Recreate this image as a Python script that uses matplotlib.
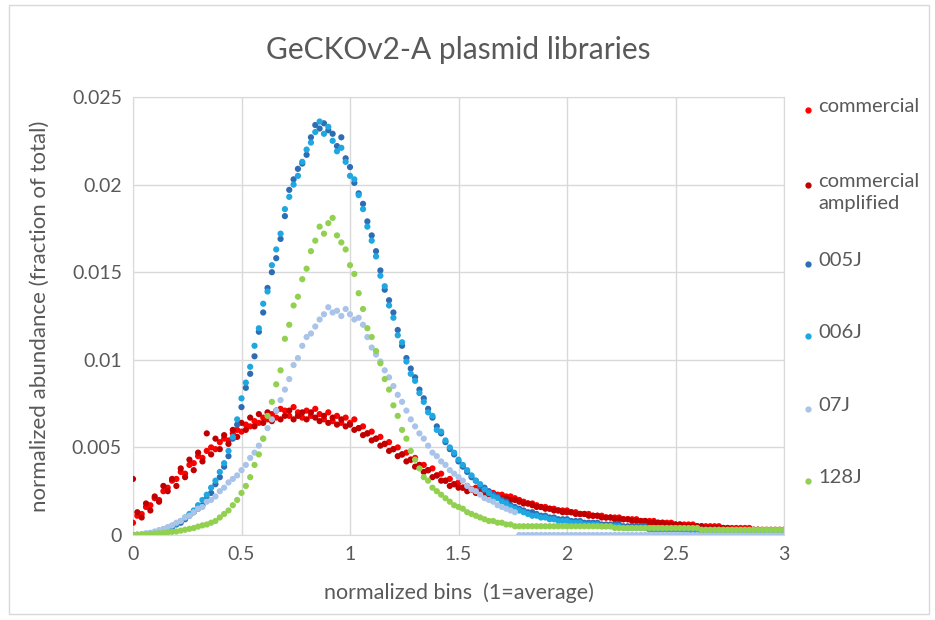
import numpy as np
import matplotlib
matplotlib.use('Agg')
import matplotlib.pyplot as plt
from matplotlib.patches import Rectangle
from matplotlib.lines import Line2D

plt.rcParams['font.family'] = ['Lato', 'DejaVu Sans']

# Normalized bins (1 = average), one bin every 0.02
bins = np.round(np.arange(0, 3.0001, 0.02), 2)

commercial = [
    0.0007, 0.0011, 0.0012, 0.0016, 0.0017, 0.0021, 0.0020, 0.0025, 0.0027, 0.0031,
    0.0032, 0.0036, 0.0035, 0.0040, 0.0041, 0.0045, 0.0044, 0.0048, 0.0050, 0.0049,
    0.0053, 0.0055, 0.0054, 0.0058, 0.0060, 0.0059, 0.0063, 0.0062, 0.0065, 0.0064,
    0.0067, 0.0066, 0.0069, 0.0067, 0.0072, 0.0071, 0.0068, 0.0073, 0.0070, 0.0067,
    0.0071, 0.0068, 0.0072, 0.0069, 0.0066, 0.0070, 0.0065, 0.0068, 0.0064, 0.0067,
    0.0064, 0.0066, 0.0061, 0.0062, 0.0058, 0.0059, 0.0055, 0.0056, 0.0052, 0.0053,
    0.0049, 0.0050, 0.0046, 0.0047, 0.0043, 0.0044, 0.0040, 0.0040, 0.0037, 0.0038,
    0.0034, 0.0035, 0.0031, 0.0032, 0.0029, 0.0030, 0.0027, 0.0028, 0.0026, 0.0027,
    0.0025, 0.0025, 0.0024, 0.0024, 0.0023, 0.0023, 0.0022, 0.0022, 0.0021, 0.0020,
    0.0019, 0.0018, 0.0018, 0.0017, 0.0016, 0.0016, 0.0015, 0.0015, 0.0014, 0.0014,
    0.0014, 0.0013, 0.0013, 0.0012, 0.0012, 0.0012, 0.0011, 0.0011, 0.0011, 0.0010,
    0.0010, 0.0010, 0.0010, 0.0009, 0.0009, 0.0009, 0.0009, 0.0008, 0.0008, 0.0008,
    0.0008, 0.0007, 0.0007, 0.0007, 0.0007, 0.0006, 0.0006, 0.0006, 0.0006, 0.0006,
    0.0005, 0.0005, 0.0005, 0.0005, 0.0005, 0.0005, 0.0004, 0.0004, 0.0004, 0.0004,
    0.0004, 0.0004, 0.0004, 0.0003, 0.0003, 0.0003, 0.0003, 0.0003, 0.0003, 0.0003,
    0.0003,
]

commercial_amplified = [
    0.0032, 0.0013, 0.0010, 0.0018, 0.0014, 0.0022, 0.0019, 0.0028, 0.0025, 0.0032,
    0.0028, 0.0038, 0.0033, 0.0043, 0.0037, 0.0047, 0.0042, 0.0058, 0.0046, 0.0055,
    0.0049, 0.0057, 0.0052, 0.0060, 0.0056, 0.0064, 0.0060, 0.0067, 0.0062, 0.0069,
    0.0064, 0.0070, 0.0065, 0.0071, 0.0066, 0.0068, 0.0071, 0.0066, 0.0068, 0.0070,
    0.0066, 0.0070, 0.0067, 0.0065, 0.0068, 0.0064, 0.0067, 0.0063, 0.0066, 0.0062,
    0.0063, 0.0060, 0.0061, 0.0057, 0.0058, 0.0054, 0.0055, 0.0051, 0.0052, 0.0048,
    0.0049, 0.0045, 0.0046, 0.0042, 0.0043, 0.0039, 0.0040, 0.0036, 0.0037, 0.0033,
    0.0034, 0.0031, 0.0031, 0.0028, 0.0029, 0.0027, 0.0027, 0.0025, 0.0026, 0.0024,
    0.0024, 0.0023, 0.0023, 0.0022, 0.0022, 0.0021, 0.0021, 0.0020, 0.0020, 0.0019,
    0.0018, 0.0018, 0.0017, 0.0016, 0.0016, 0.0015, 0.0015, 0.0014, 0.0014, 0.0013,
    0.0013, 0.0013, 0.0012, 0.0012, 0.0012, 0.0011, 0.0011, 0.0011, 0.0010, 0.0010,
    0.0010, 0.0009, 0.0009, 0.0009, 0.0009, 0.0008, 0.0008, 0.0008, 0.0008, 0.0007,
    0.0007, 0.0007, 0.0007, 0.0006, 0.0006, 0.0006, 0.0006, 0.0005, 0.0005, 0.0005,
    0.0005, 0.0005, 0.0004, 0.0004, 0.0004, 0.0004, 0.0004, 0.0004, 0.0003, 0.0003,
    0.0003, 0.0003, 0.0003, 0.0003, 0.0003, 0.0002, 0.0002, 0.0002, 0.0002, 0.0002,
    0.0002,
]

lib_005J = [
    0.0000, 0.0000, 0.00002, 0.00005, 0.00008, 0.0001, 0.00015, 0.00025, 0.00035, 0.00045,
    0.0006, 0.0007, 0.0009, 0.0011, 0.0013, 0.0015, 0.0017, 0.0021, 0.0024, 0.0029,
    0.0033, 0.0039, 0.0045, 0.0055, 0.0063, 0.0073, 0.0084, 0.0092, 0.0102, 0.0116,
    0.0127, 0.0141, 0.0150, 0.0158, 0.0169, 0.0182, 0.0197, 0.0203, 0.0209, 0.0212,
    0.0217, 0.0227, 0.0234, 0.0232, 0.0235, 0.0231, 0.0229, 0.0222, 0.0227, 0.0215,
    0.0210, 0.0201, 0.0195, 0.0189, 0.0179, 0.0171, 0.0162, 0.0151, 0.0140, 0.0134,
    0.0127, 0.0117, 0.0108, 0.0101, 0.0095, 0.0090, 0.0083, 0.0078, 0.0072, 0.0067,
    0.0062, 0.0058, 0.0053, 0.0049, 0.0046, 0.0042, 0.0039, 0.0036, 0.0033, 0.0031,
    0.0028, 0.0027, 0.0025, 0.0023, 0.0022, 0.0020, 0.0019, 0.0017, 0.0016, 0.0015,
    0.0014, 0.0013, 0.0013, 0.0012, 0.0011, 0.0011, 0.0010, 0.0010, 0.0009, 0.0009,
    0.0009, 0.0008, 0.0008, 0.0008, 0.0007, 0.0007, 0.0007, 0.0007, 0.0006, 0.0006,
    0.0006, 0.0006, 0.0006, 0.0005, 0.0005, 0.0005, 0.0005, 0.0005, 0.0005, 0.0004,
    0.0004, 0.0004, 0.0004, 0.0004, 0.0004, 0.0004, 0.0004, 0.0003, 0.0003, 0.0003,
    0.0003, 0.0003, 0.0003, 0.0003, 0.0003, 0.0003, 0.0002, 0.0002, 0.0002, 0.0002,
    0.0002, 0.0002, 0.0002, 0.0002, 0.0002, 0.0002, 0.0002, 0.0001, 0.0001, 0.0001,
    0.0001,
]

lib_006J = [
    0.0000, 0.00002, 0.00004, 0.00007, 0.0001, 0.00014, 0.0002, 0.0003, 0.0004, 0.00052,
    0.00065, 0.0008, 0.0010, 0.0012, 0.0014, 0.0017, 0.0020, 0.0023, 0.0027, 0.0031,
    0.0036, 0.0041, 0.0048, 0.0056, 0.0066, 0.0078, 0.0087, 0.0096, 0.0108, 0.0118,
    0.0132, 0.0139, 0.0154, 0.0163, 0.0172, 0.0186, 0.0193, 0.0200, 0.0205, 0.0213,
    0.0220, 0.0224, 0.0230, 0.0236, 0.0229, 0.0233, 0.0225, 0.0219, 0.0221, 0.0213,
    0.0205, 0.0203, 0.0194, 0.0186, 0.0176, 0.0168, 0.0159, 0.0148, 0.0142, 0.0131,
    0.0124, 0.0114, 0.0110, 0.0099, 0.0092, 0.0088, 0.0081, 0.0076, 0.0070, 0.0068,
    0.0060, 0.0059, 0.0054, 0.0050, 0.0047, 0.0043, 0.0040, 0.0037, 0.0034, 0.0031,
    0.0029, 0.0026, 0.0024, 0.0022, 0.0021, 0.0019, 0.0018, 0.0016, 0.0015, 0.0014,
    0.0013, 0.0012, 0.0011, 0.0011, 0.0010, 0.0010, 0.0009, 0.0009, 0.0008, 0.0008,
    0.0008, 0.0007, 0.0007, 0.0007, 0.0006, 0.0006, 0.0006, 0.0006, 0.0005, 0.0005,
    0.0005, 0.0005, 0.0005, 0.0004, 0.0004, 0.0004, 0.0004, 0.0004, 0.0004, 0.0003,
    0.0003, 0.0003, 0.0003, 0.0003, 0.0003, 0.0003, 0.0003, 0.0003, 0.0003, 0.0002,
    0.0002, 0.0002, 0.0002, 0.0002, 0.0002, 0.0002, 0.0002, 0.0002, 0.0002, 0.0001,
    0.0001, 0.0001, 0.0001, 0.0001, 0.0001, 0.0001, 0.0001, 0.0001, 0.0001, 0.0001,
    0.0001,
]

lib_07J = [
    0.0000, 0.00002, 0.00005, 0.0001, 0.00013, 0.0002, 0.00028, 0.00035, 0.00045, 0.00055,
    0.0007, 0.0008, 0.0010, 0.0011, 0.0013, 0.0015, 0.0016, 0.0019, 0.0020, 0.0022,
    0.0025, 0.0027, 0.0030, 0.0032, 0.0034, 0.0037, 0.0040, 0.0044, 0.0047, 0.0051,
    0.0055, 0.0061, 0.0066, 0.0071, 0.0077, 0.0083, 0.0089, 0.0097, 0.0101, 0.0108,
    0.0113, 0.0115, 0.0119, 0.0123, 0.0126, 0.0130, 0.0127, 0.0128, 0.0125, 0.0129,
    0.0126, 0.0123, 0.0124, 0.0120, 0.0113, 0.0107, 0.0103, 0.0099, 0.0094, 0.0090,
    0.0085, 0.0080, 0.0076, 0.0071, 0.0066, 0.0062, 0.0058, 0.0055, 0.0051, 0.0047,
    0.0045, 0.0042, 0.0040, 0.0037, 0.0035, 0.0033, 0.0031, 0.0028, 0.0026, 0.0025,
    0.0023, 0.0021, 0.0020, 0.0019, 0.0017, 0.0016, 0.0015, 0.0014, 0.0013, 0.0,
    0.0, 0.0, 0.0, 0.0, 0.0, 0.0, 0.0, 0.0, 0.0, 0.0,
    0.0, 0.0, 0.0, 0.0, 0.0, 0.0, 0.0, 0.0, 0.0, 0.0,
    0.0, 0.0, 0.0, 0.0, 0.0, 0.0, 0.0, 0.0, 0.0, 0.0,
    0.0, 0.0, 0.0, 0.0, 0.0, 0.0, 0.0, 0.0, 0.0, 0.0,
    0.0, 0.0, 0.0, 0.0, 0.0, 0.0, 0.0, 0.0, 0.0, 0.0,
    0.0, 0.0, 0.0, 0.0, 0.0, 0.0, 0.0, 0.0, 0.0, 0.0,
    0.0,
]

lib_128J = [
    0.0000, 0.0000, 0.00002, 0.00004, 0.00006, 0.00008, 0.0001, 0.00012, 0.00015, 0.00018,
    0.0002, 0.00025, 0.0003, 0.00035, 0.0004, 0.00048, 0.00055, 0.0006, 0.0007, 0.0008,
    0.0010, 0.0012, 0.0014, 0.0017, 0.0020, 0.0024, 0.0028, 0.0033, 0.0040, 0.0046,
    0.0055, 0.0068, 0.0076, 0.0086, 0.0094, 0.0112, 0.0120, 0.0131, 0.0136, 0.0146,
    0.0152, 0.0162, 0.0168, 0.0176, 0.0172, 0.0178, 0.0181, 0.0171, 0.0167, 0.0163,
    0.0154, 0.0149, 0.0138, 0.0129, 0.0118, 0.0113, 0.0105, 0.0098, 0.0089, 0.0083,
    0.0074, 0.0068, 0.0060, 0.0055, 0.0048, 0.0043, 0.0038, 0.0033, 0.0031, 0.0027,
    0.0025, 0.0023, 0.0021, 0.0019, 0.0017, 0.0016, 0.0015, 0.0013, 0.0012, 0.0011,
    0.0010, 0.0009, 0.0008, 0.0008, 0.0007, 0.0007, 0.0006, 0.0006, 0.0005, 0.0005,
    0.0005, 0.0005, 0.0005, 0.0005, 0.0005, 0.0005, 0.0005, 0.0005, 0.0005, 0.0005,
    0.0005, 0.0005, 0.0005, 0.0005, 0.0005, 0.0005, 0.0005, 0.0005, 0.0005, 0.0005,
    0.0005, 0.0004, 0.0004, 0.0004, 0.0004, 0.0004, 0.0004, 0.0004, 0.0004, 0.0004,
    0.0004, 0.0004, 0.0004, 0.0004, 0.0004, 0.0004, 0.0004, 0.0004, 0.0004, 0.0004,
    0.0004, 0.0003, 0.0003, 0.0003, 0.0003, 0.0003, 0.0003, 0.0003, 0.0003, 0.0003,
    0.0003, 0.0003, 0.0003, 0.0003, 0.0003, 0.0003, 0.0003, 0.0003, 0.0003, 0.0003,
    0.0003,
]

series_names = ['commercial', 'commercial\namplified', '005J', '006J', '07J', '128J']
series_values = [commercial, commercial_amplified, lib_005J, lib_006J, lib_07J, lib_128J]
series_colors = ['#FF0000', '#C00000', '#2E6DB4', '#1FA7E1', '#A9C4E8', '#92D050']

text_grey = '#595959'
grid_grey = '#D9D9D9'

fig = plt.figure(figsize=(9.35, 6.2), dpi=100)
ax = fig.add_axes([133 / 935, 1 - 535 / 620, 651 / 935, 438 / 620])

# Scatter series
for name, vals, col in zip(series_names, series_values, series_colors):
    ax.scatter(bins, vals, s=20, color=col, edgecolors='none', zorder=3, label=name)

# Axes
ax.set_xlim(0, 3)
ax.set_ylim(0, 0.025)
ax.set_xticks([0, 0.5, 1, 1.5, 2, 2.5, 3])
ax.set_xticklabels(['0', '0.5', '1', '1.5', '2', '2.5', '3'])
ax.set_yticks([0, 0.005, 0.01, 0.015, 0.02, 0.025])
ax.set_yticklabels(['0', '0.005', '0.01', '0.015', '0.02', '0.025'])
ax.tick_params(length=0, colors=text_grey, labelsize=14, pad=8)
ax.grid(color=grid_grey, lw=1, zorder=0)
ax.set_axisbelow(True)
for sp in ax.spines.values():
    sp.set_color(grid_grey)

ax.set_xlabel('normalized bins  (1=average)', fontsize=15.5, color=text_grey, labelpad=14)
ax.set_ylabel('normalized abundance (fraction of total)', fontsize=16, color=text_grey, labelpad=16)
ax.set_title('GeCKOv2-A plasmid libraries', fontsize=21.5, color=text_grey, pad=27)

# Legend on the right
leg_y = [110, 185, 264, 336, 409, 481]
for name, col, yp in zip(series_names, series_colors, leg_y):
    fig.add_artist(Line2D([808 / 935], [1 - yp / 620], marker='o', markersize=3.5,
                          color=col, linestyle='none', transform=fig.transFigure))
    fig.text(818 / 935, 1 - (yp - 12) / 620, name, fontsize=14.5, color=text_grey,
             va='top', ha='left', linespacing=1.35)

# Chart border
fig.add_artist(Rectangle((9 / 935, 1 - 614 / 620), 920 / 935, 609 / 620,
                         transform=fig.transFigure, fill=False,
                         edgecolor=grid_grey, lw=1))

fig.savefig('out.png', dpi=100)
